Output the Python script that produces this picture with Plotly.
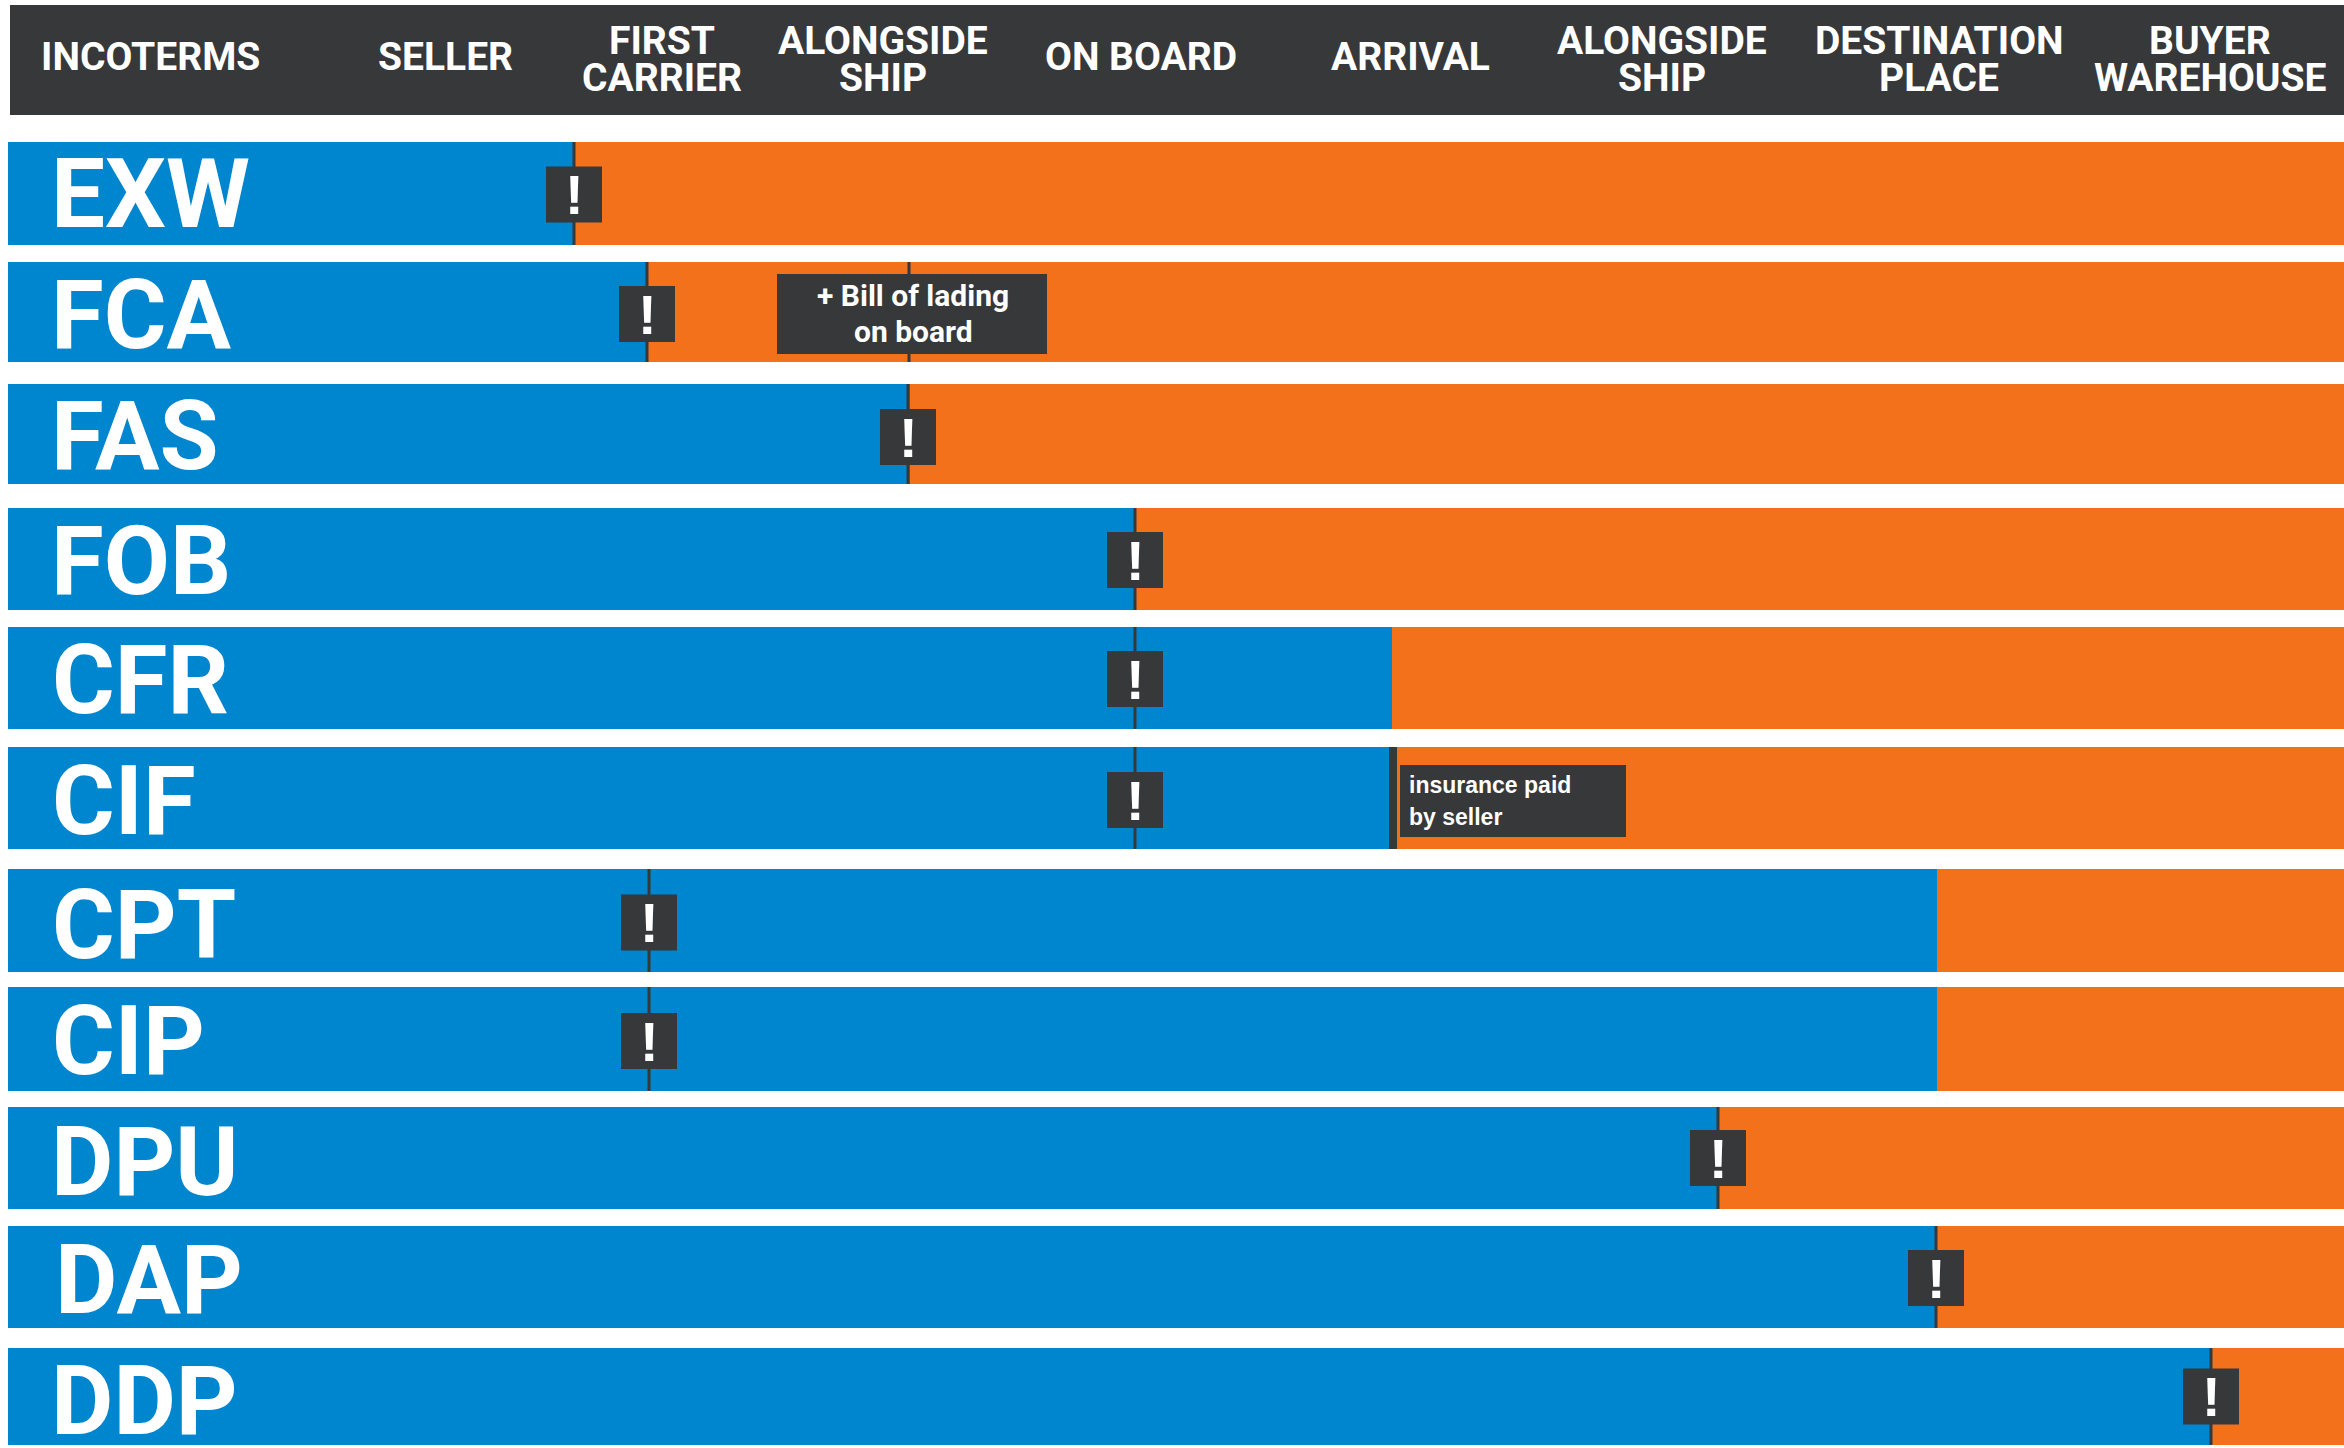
import plotly.graph_objects as go

# ---------- data (horizontal unit: reference pixels) ----------
terms = ["EXW", "FCA", "FAS", "FOB", "CFR", "CIF", "CPT", "CIP", "DPU", "DAP", "DDP"]
seller_end = [575, 647, 910, 1136, 1392, 1392, 1937, 1937, 1719, 1937, 2212]
risk_point = [574, 647, 908, 1135, 1135, 1135, 649, 649, 1718, 1936, 2211]
header_lines = [
    ["INCOTERMS"], ["SELLER"], ["FIRST", "CARRIER"], ["ALONGSIDE", "SHIP"], ["ON BOARD"],
    ["ARRIVAL"], ["ALONGSIDE", "SHIP"], ["DESTINATION", "PLACE"], ["BUYER", "WAREHOUSE"],
]

# ---------- layout ----------
W, H = 2344, 1448
BLUE, ORANGE, DARK = "#0085CF", "#F4711C", "#37383A"
FONT = "Liberation Sans"
HEAD = "Roboto"

row_top = [142, 262, 384, 508, 627, 747, 869, 987, 1107, 1226, 1348]
row_bottom = [245, 362, 484, 610, 729, 849, 972, 1091, 1209, 1328, 1445]
label_x = [50, 50, 50, 50, 51, 51, 51, 51, 50, 54, 50]
label_dy = [0, 3, 2, 2, 2, 3, 4, 2, 4, 3, 4]
marker_dy = [1, 2, 3, 1, 1, 2, 2, 2, 0, 1, 0]
header_x = [150, 445, 662, 883, 1141, 1410, 1662, 1939, 2210]
LEFT = 8

centers = [(t + b) / 2 for t, b in zip(row_top, row_bottom)]
heights = [b - t for t, b in zip(row_top, row_bottom)]
marker_y = [c + d for c, d in zip(centers, marker_dy)]

fig = go.Figure()
fig.add_bar(
    orientation="h", y=centers, width=heights, base=LEFT,
    x=[e - LEFT for e in seller_end], marker=dict(color=BLUE, line_width=0), name="Seller",
)
fig.add_bar(
    orientation="h", y=centers, width=heights, base=seller_end,
    x=[W - e for e in seller_end], marker=dict(color=ORANGE, line_width=0), name="Buyer",
)
fig.add_scatter(
    x=risk_point, y=marker_y, mode="markers",
    marker=dict(symbol="square", size=56, color=DARK, line_width=0),
    error_y=dict(
        type="data", symmetric=False,
        array=[b - y for b, y in zip(row_bottom, marker_y)],
        arrayminus=[y - t for y, t in zip(marker_y, row_top)],
        color=DARK, thickness=3, width=0,
    ),
    name="Risk transfer",
)

shapes = [
    dict(type="rect", x0=10, x1=W, y0=5, y1=115, fillcolor=DARK, line_width=0),
    dict(type="line", x0=909, x1=909, y0=row_top[1], y1=row_bottom[1], line=dict(color=DARK, width=3)),
    dict(type="rect", x0=777, x1=1047, y0=274, y1=354, fillcolor=DARK, line_width=0),
    dict(type="rect", x0=1389, x1=1397, y0=row_top[5], y1=row_bottom[5], fillcolor=DARK, line_width=0),
    dict(type="rect", x0=1400, x1=1626, y0=765, y1=837, fillcolor=DARK, line_width=0),
]

annotations = []


def note(x, y, text, size, anchor="center", family=FONT):
    annotations.append(dict(
        x=x, y=y, text=f"<b>{text}</b>", showarrow=False, xanchor=anchor, yanchor="middle",
        font=dict(family=family, size=size, color="white"), borderpad=0,
    ))


for cx, lines in zip(header_x, header_lines):
    if len(lines) == 1:
        note(cx, 57, lines[0], 39, family=HEAD)
    else:
        note(cx, 41, lines[0], 39, family=HEAD)
        note(cx, 78, lines[1], 39, family=HEAD)

for term, lx, cy, dy in zip(terms, label_x, centers, label_dy):
    note(lx, cy + dy, term, 96, anchor="left", family=HEAD)

for rx, my in zip(risk_point, marker_y):
    note(rx, my, "!", 56)

note(913, 295, "+ Bill of lading", 30, family=HEAD)
note(913, 331, "on board", 30, family=HEAD)
note(1408, 785, "insurance paid", 23, anchor="left")
note(1408, 817, "by seller", 23, anchor="left")

fig.update_layout(
    width=W, height=H, autosize=False,
    margin=dict(l=0, r=0, t=0, b=0, pad=0),
    paper_bgcolor="white", plot_bgcolor="white",
    barmode="overlay", showlegend=False,
    xaxis=dict(range=[0, W], visible=False, fixedrange=True),
    yaxis=dict(range=[H, 0], visible=False, fixedrange=True),
    shapes=shapes, annotations=annotations,
)
fig.write_html(
    "out.html", config={"displayModeBar": False},
    post_script="document.body.style.margin='0';document.documentElement.style.overflow='hidden';",
)
